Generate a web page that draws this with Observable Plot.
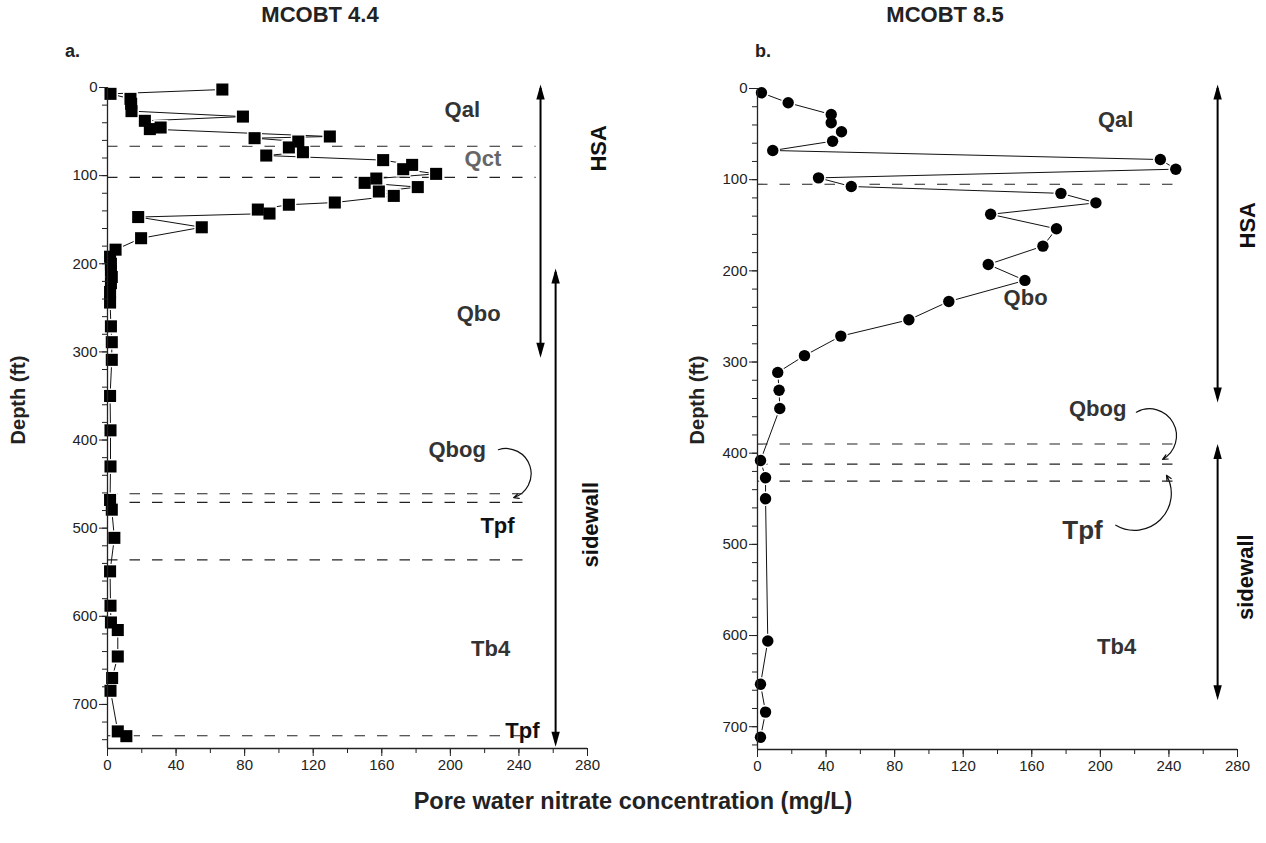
<!DOCTYPE html>
<html><head><meta charset="utf-8">
<script src="https://cdn.jsdelivr.net/npm/d3@7"></script>
<script src="https://cdn.jsdelivr.net/npm/@observablehq/plot@0.6"></script>
<style>
body{margin:0;background:#fff;font-family:"Liberation Sans",Arial,sans-serif;}
#wrap{position:relative;width:1266px;height:843px;overflow:hidden;background:#fff;}
.t{position:absolute;font-weight:bold;color:#222;white-space:nowrap;line-height:1;}
</style></head><body><div id="wrap">
<div class="t" style="left:320px;top:4px;transform:translateX(-50%);font-size:22px;">MCOBT 4.4</div>
<div class="t" style="left:945px;top:4px;transform:translateX(-50%);font-size:22px;">MCOBT 8.5</div>
<div class="t" style="left:65px;top:42px;font-size:18px;">a.</div>
<div class="t" style="left:755px;top:42px;font-size:18px;">b.</div>
<div class="t" style="left:18px;top:400px;transform:translate(-50%,-50%) rotate(-90deg);font-size:20px;">Depth (ft)</div>
<div class="t" style="left:697px;top:400px;transform:translate(-50%,-50%) rotate(-90deg);font-size:20px;">Depth (ft)</div>
<div class="t" style="left:633px;top:802px;transform:translate(-50%,-50%);font-size:23.5px;">Pore water nitrate concentration (mg/L)</div>
</div>
<script>
// ---- Panel a: MCOBT 4.4 (squares) ----
const depthA   = [2.3, 7.2, 12.9, 18.5, 26.8, 33, 37.8, 45.4, 47.2, 55.6, 57.5, 61.3, 68, 73.4, 77.2, 82.4, 87.8, 92.7, 98, 103.3, 108.2, 113, 118, 123, 130.5, 133, 138.5, 143, 147, 158.6, 171, 184, 192, 200, 208, 215, 222, 232, 244, 271, 289, 309, 350, 389, 430, 468, 479, 511, 549, 588, 607, 615.6, 645.6, 670, 684.5, 730.6, 736];
const nitrateA = [67, 1.75, 13.4, 13.8, 14, 79, 21.8, 31, 24.7, 129.7, 85.8, 111.3, 105.8, 114, 92.6, 160.8, 177.7, 172.5, 191.7, 156.8, 150, 181, 158.3, 167, 132.6, 105.8, 87.7, 94.5, 17.9, 55, 19.6, 4.7, 1.5, 2, 2, 2.5, 2, 1.5, 1.5, 2, 2.5, 2.5, 1.5, 1.75, 1.75, 1.5, 2.5, 4, 1.5, 1.75, 2, 6, 6, 2.7, 1.75, 6, 11];
const contactsA = [66.6, 102, 461, 470.7, 536, 735.5];
const contactEndA = [250, 250, 243, 243, 243, 241];
const unitLabelsA = ["Qal", "Qct", "Qbo", "Qbog", "Tpf", "Tb4", "Tpf"];
const unitXA = [207, 219, 216.5, 204, 227.5, 223.5, 242];
const unitYA = [26, 80.6, 256.5, 411, 497, 637, 730];
const unitColorA = ["#333", "#666", "#333", "#333", "#111", "#333", "#111"];
const zoneLabelsA = ["HSA", "sidewall"];
const zoneXA = [286.5, 281.8];
const zoneYA = [69, 496];
const zoneArrowXA = [252.6, 261.4];
const zoneArrowTopA = [-3.5, 205.4];
const zoneArrowBotA = [306.5, 748];
const curveA = [{x1: 228, y1: 411, x2: 236.9, y2: 465.4, bend: 90}];

// ---- Panel b: MCOBT 8.5 (circles) ----
const depthB   = [4.7, 15.7, 28.5, 37.6, 47.5, 57.8, 68, 77.9, 88.5, 98, 107.5, 115, 125.4, 138, 153.9, 172.9, 193, 210.5, 233.6, 253.7, 271.6, 293, 311.4, 331, 351, 408, 427, 450, 606, 653.5, 684, 711.6];
const nitrateB = [2.3, 17.9, 43, 43, 49, 43.8, 8.9, 235, 244, 35.6, 54.7, 177, 197.4, 136, 174.4, 166.5, 134.6, 156, 111.6, 88.3, 48.6, 27.4, 11.8, 12.6, 13, 1.75, 4.7, 4.7, 6, 1.75, 4.7, 1.75];
const contactsB = [105, 390, 412, 430.6];
const contactEndB = [243, 243, 243, 243];
const unitLabelsB = ["Qal", "Qbo", "Qbog", "Tpf", "Tb4"];
const unitXB = [208.9, 156.4, 198.4, 189.6, 209.5];
const unitYB = [35, 230, 351, 484.6, 613];
const unitSizeB = [22, 22, 22, 26, 22];
const zoneLabelsB = ["HSA", "sidewall"];
const zoneXB = [286, 284.7];
const zoneYB = [150, 536];
const zoneArrowXB = [268.4, 268.4];
const zoneArrowTopB = [-4.4, 390];
const zoneArrowBotB = [344.3, 671];
const curveB = [{x1: 221, y1: 355, x2: 236.3, y2: 406.8, bend: 90}, {x1: 209, y1: 479, x2: 238.6, y2: 424.3, bend: -75}];

const xTicksMajor = d3.range(0, 281, 40);
const xTicksMinor = d3.range(0, 281, 20);

const headUp = {draw(ctx) { ctx.moveTo(0, 0); ctx.lineTo(4.2, 15); ctx.lineTo(-4.2, 15); ctx.closePath(); }};
const headDown = {draw(ctx) { ctx.moveTo(0, 0); ctx.lineTo(4.2, -15); ctx.lineTo(-4.2, -15); ctx.closePath(); }};

function panel(o) {
  const pts = o.depth.map((d, i) => ({depth: d, val: o.nitrate[i]}));
  const contacts = o.contacts.map((d, i) => ({depth: d, end: o.contactEnd[i]}));
  const units = o.unitLabels.map((t, i) => ({t, x: o.unitX[i], y: o.unitY[i], c: o.unitColor ? o.unitColor[i] : "#333", s: o.unitSize ? o.unitSize[i] : 22}));
  const zones = o.zoneLabels.map((t, i) => ({t, x: o.zoneX[i], y: o.zoneY[i]}));
  const zarrows = o.zoneArrowX.map((x, i) => ({x, top: o.zoneArrowTop[i], bot: o.zoneArrowBot[i]}));
  const yTicksMajor = d3.range(0, o.ymax + 1, 100);
  const yTicksMinor = d3.range(0, o.ymax + 1, 20);
  const curveMarks = o.curves.map(c => Plot.arrow([c], {x1: "x1", y1: "y1", x2: "x2", y2: "y2", bend: c.bend, stroke: "#111", strokeWidth: 1.2, headLength: 7, headAngle: 50}));
  return Plot.plot({
    width: o.width, height: 843,
    marginLeft: o.ml, marginRight: o.mr, marginTop: o.mt, marginBottom: o.mb,
    x: {domain: [0, 280], axis: null},
    y: {domain: [0, o.ymax], reverse: true, axis: null},
    style: {fontFamily: "Liberation Sans, Arial, sans-serif", fontSize: "15px", background: "transparent", overflow: "visible"},
    marks: [
      Plot.ruleY(contacts, {y: "depth", x1: 0, x2: "end", stroke: "#222", strokeWidth: 1.1, strokeDasharray: "10.5,12"}),
      Plot.line(pts, {x: "val", y: "depth", stroke: "#111", strokeWidth: 1}),
      Plot.dot(pts, {x: "val", y: "depth", symbol: o.symbol, r: o.r + 1.6, fill: "white"}),
      Plot.dot(pts, {x: "val", y: "depth", symbol: o.symbol, r: o.r, fill: "black"}),
      Plot.axisY({ticks: yTicksMinor, tickSize: 5, tickFormat: () => "", label: null, stroke: "#222"}),
      Plot.axisY({ticks: yTicksMajor, tickSize: 8, tickPadding: 2, label: null, fontSize: 15, fill: "#222", stroke: "#222"}),
      Plot.axisX({ticks: xTicksMinor, tickSize: 5, tickFormat: () => "", label: null, stroke: "#222"}),
      Plot.axisX({ticks: xTicksMajor, tickSize: 8, tickPadding: 3, label: null, fontSize: 15, fill: "#222", stroke: "#222"}),
      Plot.ruleX([0], {stroke: "#222", strokeWidth: 1.3}),
      Plot.ruleY([o.ymax], {stroke: "#222", strokeWidth: 1.3}),
      Plot.ruleX(zarrows, {x: "x", y1: "top", y2: "bot", stroke: "black", strokeWidth: 2, insetTop: 4, insetBottom: 4}),
      Plot.dot(zarrows, {x: "x", y: "top", symbol: headUp, fill: "black"}),
      Plot.dot(zarrows, {x: "x", y: "bot", symbol: headDown, fill: "black"}),
      ...curveMarks,
      Plot.text(units, {x: "x", y: "y", text: "t", fill: "c", fontSize: "s", fontWeight: "bold"}),
      Plot.text(zones, {x: "x", y: "y", text: "t", rotate: -90, fill: "#111", fontSize: 22, fontWeight: "bold"})
    ]
  });
}

const wrap = document.getElementById("wrap");
const svgA = panel({depth: depthA, nitrate: nitrateA, contacts: contactsA, contactEnd: contactEndA,
  unitLabels: unitLabelsA, unitX: unitXA, unitY: unitYA, unitColor: unitColorA,
  zoneLabels: zoneLabelsA, zoneX: zoneXA, zoneY: zoneYA, zoneArrowX: zoneArrowXA, zoneArrowTop: zoneArrowTopA, zoneArrowBot: zoneArrowBotA,
  curves: curveA, ymax: 750, symbol: "square", r: 6.8, width: 640, ml: 107, mr: 53, mt: 87, mb: 95});
svgA.style.position = "absolute"; svgA.style.left = "0px"; svgA.style.top = "0px";
wrap.appendChild(svgA);

const svgB = panel({depth: depthB, nitrate: nitrateB, contacts: contactsB, contactEnd: contactEndB,
  unitLabels: unitLabelsB, unitX: unitXB, unitY: unitYB, unitSize: unitSizeB,
  zoneLabels: zoneLabelsB, zoneX: zoneXB, zoneY: zoneYB, zoneArrowX: zoneArrowXB, zoneArrowTop: zoneArrowTopB, zoneArrowBot: zoneArrowBotB,
  curves: curveB, ymax: 725, symbol: "circle", r: 5.7, width: 626, ml: 117, mr: 29, mt: 88, mb: 94});
svgB.style.position = "absolute"; svgB.style.left = "640px"; svgB.style.top = "0px";
wrap.appendChild(svgB);
</script>
</body></html>
